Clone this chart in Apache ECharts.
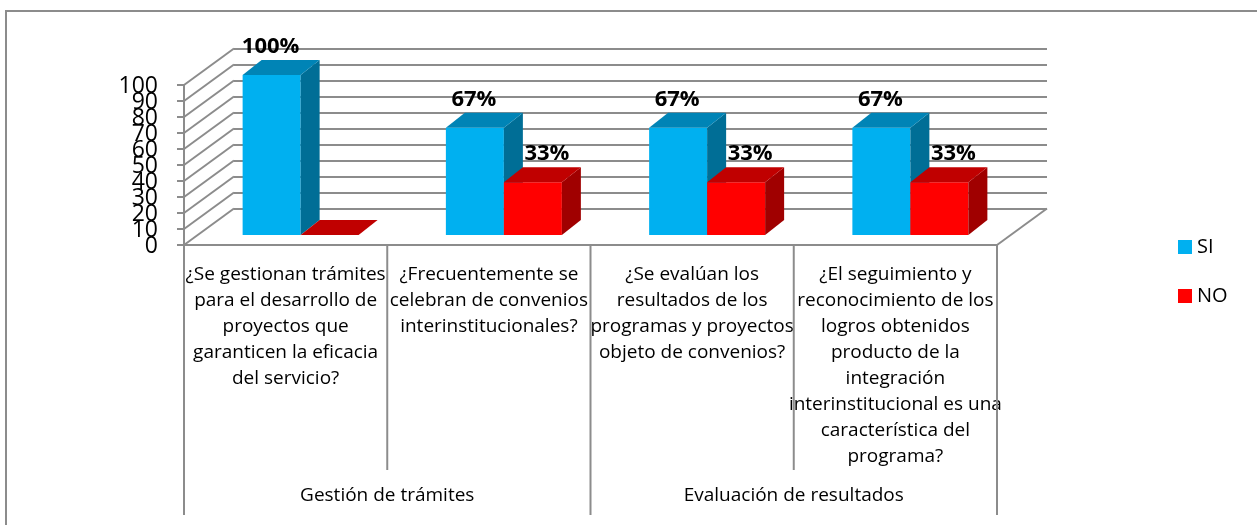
<!DOCTYPE html>
<html>
<head>
<meta charset="utf-8">
<script src="https://cdn.jsdelivr.net/npm/echarts@6/dist/echarts.min.js"></script>
<style>
  html, body { margin: 0; padding: 0; background: #fff; }
  #chart { width: 1257px; height: 525px; }
</style>
</head>
<body>
<div id="chart"></div>
<script>
// datos
const preguntas = [
    "¿Se gestionan trámites\npara el desarrollo de\nproyectos que\ngaranticen la eficacia\ndel servicio?",
    "¿Frecuentemente se\ncelebran de convenios\ninterinstitucionales?",
    "¿Se evalúan los\nresultados de los\nprogramas y proyectos\nobjeto de convenios?",
    "¿El seguimiento y\nreconocimiento de los\nlogros obtenidos\nproducto de la\nintegración\ninterinstitucional es una\ncaracterística del\nprograma?"
];
const grupos = ["Gestión de trámites", "Evaluación de resultados"];
const tamGrupos = [2, 2];
const valoresSI = [100, 67, 67, 67];
const valoresNO = [0, 33, 33, 33];
const yTicks = [0, 10, 20, 30, 40, 50, 60, 70, 80, 90, 100];

(() => {
    let chart = echarts.init(document.getElementById("chart"));

    // profundidad del piso/pared y de las barras
    const DX = 50, DY = -36.5;
    const BDX = 19, BDY = -15;
    const BAR_W = 58;
    const GRAY = "#8c8c8c";
    const FONT = "'Open Sans', 'Noto Sans', sans-serif";

    // limites de categoria (0..4) y de grupo
    let limites = [];
    for (let k = 0; k <= preguntas.length; k++) limites.push(k);
    let limitesGrupo = [0];
    tamGrupos.forEach((n) => limitesGrupo.push(limitesGrupo[limitesGrupo.length - 1] + n));

    let makeBarSeries = function (name, data, front, top, side, isRight) {
        return {
            name: name,
            type: "custom",
            xAxisIndex: 0,
            yAxisIndex: 0,
            z: 3,
            itemStyle: { color: front },
            data: data.map((v, i) => [i, v]),
            renderItem: function (params, api) {
                let i = api.value(0), v = api.value(1);
                let center = api.coord([i, 0])[0];
                let pair = center + 15;
                let x0 = isRight ? pair : pair - BAR_W;
                let x1 = x0 + BAR_W;
                let yb = api.coord([i, 0])[1] - 10;
                let yt = api.coord([i, v])[1] - 10;
                let children = [
                    { type: "rect", shape: { x: x0, y: yt, width: BAR_W, height: yb - yt }, style: { fill: front } },
                    { type: "polygon", shape: { points: [[x1, yt], [x1 + BDX, yt + BDY], [x1 + BDX, yb + BDY], [x1, yb]] }, style: { fill: side } },
                    { type: "polygon", shape: { points: [[x0, yt], [x1, yt], [x1 + BDX, yt + BDY], [x0 + BDX, yt + BDY]] }, style: { fill: top } }
                ];
                if (v > 0) {
                    children.push({
                        type: "text",
                        style: {
                            x: (x0 + x1) / 2 + (isRight ? 14 : -1),
                            y: yt + BDY - 13,
                            text: v + "%",
                            fill: "#000",
                            font: "bold 22px " + FONT,
                            align: "center",
                            verticalAlign: "middle"
                        }
                    });
                }
                return { type: "group", children: children };
            }
        };
    };

    chart.setOption({
        animation: false,
        color: ["#00B0F0", "#FF0000"],
        graphic: [{
            type: "rect",
            shape: { x: 6, y: 11, width: 1260, height: 530 },
            style: { fill: "transparent", stroke: GRAY, lineWidth: 2 },
            silent: true,
            z: -10
        }],
        legend: {
            data: ["SI", "NO"],
            orient: "vertical",
            left: 1173,
            top: 232,
            icon: "rect",
            itemWidth: 14,
            itemHeight: 14,
            itemGap: 29,
            textStyle: { fontSize: 20, color: "#000", fontFamily: FONT, lineHeight: 20 }
        },
        grid: [
            { left: 184, top: 85, width: 813, height: 160 },
            { left: 234, top: 48.5, width: 813, height: 160 }
        ],
        xAxis: [
            {
                gridIndex: 0,
                type: "category",
                data: preguntas,
                axisLine: { show: false },
                axisTick: { show: false },
                axisLabel: {
                    interval: 0,
                    margin: 17,
                    color: "#000",
                    fontSize: 19,
                    lineHeight: 26,
                    verticalAlign: "top",
                    fontFamily: FONT
                }
            },
            {
                gridIndex: 0,
                type: "category",
                position: "bottom",
                data: grupos,
                axisLine: { show: false },
                axisTick: { show: false },
                axisLabel: {
                    interval: 0,
                    margin: 241,
                    color: "#000",
                    fontSize: 19,
                    fontFamily: FONT
                }
            },
            {
                gridIndex: 1,
                type: "category",
                data: preguntas,
                show: false
            }
        ],
        yAxis: [
            {
                gridIndex: 0,
                type: "value",
                min: 0,
                max: 100,
                interval: 10,
                axisLine: { show: false },
                axisTick: { show: false },
                axisLabel: { show: false },
                splitLine: { show: false }
            },
            {
                gridIndex: 1,
                type: "value",
                min: 0,
                max: 100,
                interval: 10,
                axisLine: { show: false },
                axisTick: { show: false },
                axisLabel: { show: false },
                splitLine: { show: true, lineStyle: { color: GRAY, width: 2 } }
            }
        ],
        series: [
            // pared lateral, eje vertical (con sus etiquetas) y piso
            {
                type: "custom",
                xAxisIndex: 0,
                yAxisIndex: 0,
                silent: true,
                z: 1,
                data: yTicks.map((t) => [0, t]),
                renderItem: function (params, api) {
                    let cs = params.coordSys;
                    let t = api.value(1);
                    let y = api.coord([0, t])[1];
                    let children = [
                        { type: "line", shape: { x1: cs.x, y1: y, x2: cs.x + DX, y2: y + DY }, style: { stroke: GRAY, lineWidth: 2 } },
                        { type: "line", shape: { x1: cs.x - 7, y1: y, x2: cs.x, y2: y }, style: { stroke: GRAY, lineWidth: 2 } },
                        {
                            type: "text",
                            style: {
                                x: cs.x - 26, y: y + 1, text: String(t), fill: "#000",
                                font: "23px " + FONT, align: "right", verticalAlign: "middle"
                            }
                        }
                    ];
                    if (t === 0) {
                        children.push(
                            { type: "line", shape: { x1: cs.x, y1: y, x2: cs.x + cs.width, y2: y }, style: { stroke: GRAY, lineWidth: 2 } },
                            { type: "line", shape: { x1: cs.x + cs.width, y1: y, x2: cs.x + cs.width + DX, y2: y + DY }, style: { stroke: GRAY, lineWidth: 2 } },
                            { type: "line", shape: { x1: cs.x, y1: cs.y, x2: cs.x, y2: cs.y + cs.height }, style: { stroke: GRAY, lineWidth: 2 } }
                        );
                    }
                    return { type: "group", children: children };
                }
            },
            // divisiones de categorias
            {
                type: "custom",
                xAxisIndex: 0,
                yAxisIndex: 0,
                silent: true,
                z: 1,
                data: limites.map((k) => [k, limitesGrupo.indexOf(k) >= 0 ? 1 : 0]),
                renderItem: function (params, api) {
                    let cs = params.coordSys;
                    let band = api.size([1, 0])[0];
                    let x = cs.x + api.value(0) * band;
                    let y0 = cs.y + cs.height;
                    let len = api.value(1) ? 270 : 225;
                    return { type: "line", shape: { x1: x, y1: y0, x2: x, y2: y0 + len }, style: { stroke: GRAY, lineWidth: 2 } };
                }
            },
            makeBarSeries("SI", valoresSI, "#00B0F0", "#0084B6", "#006E96", false),
            makeBarSeries("NO", valoresNO, "#FF0000", "#C00000", "#A00000", true)
        ]
    });
})();
</script>
</body>
</html>
